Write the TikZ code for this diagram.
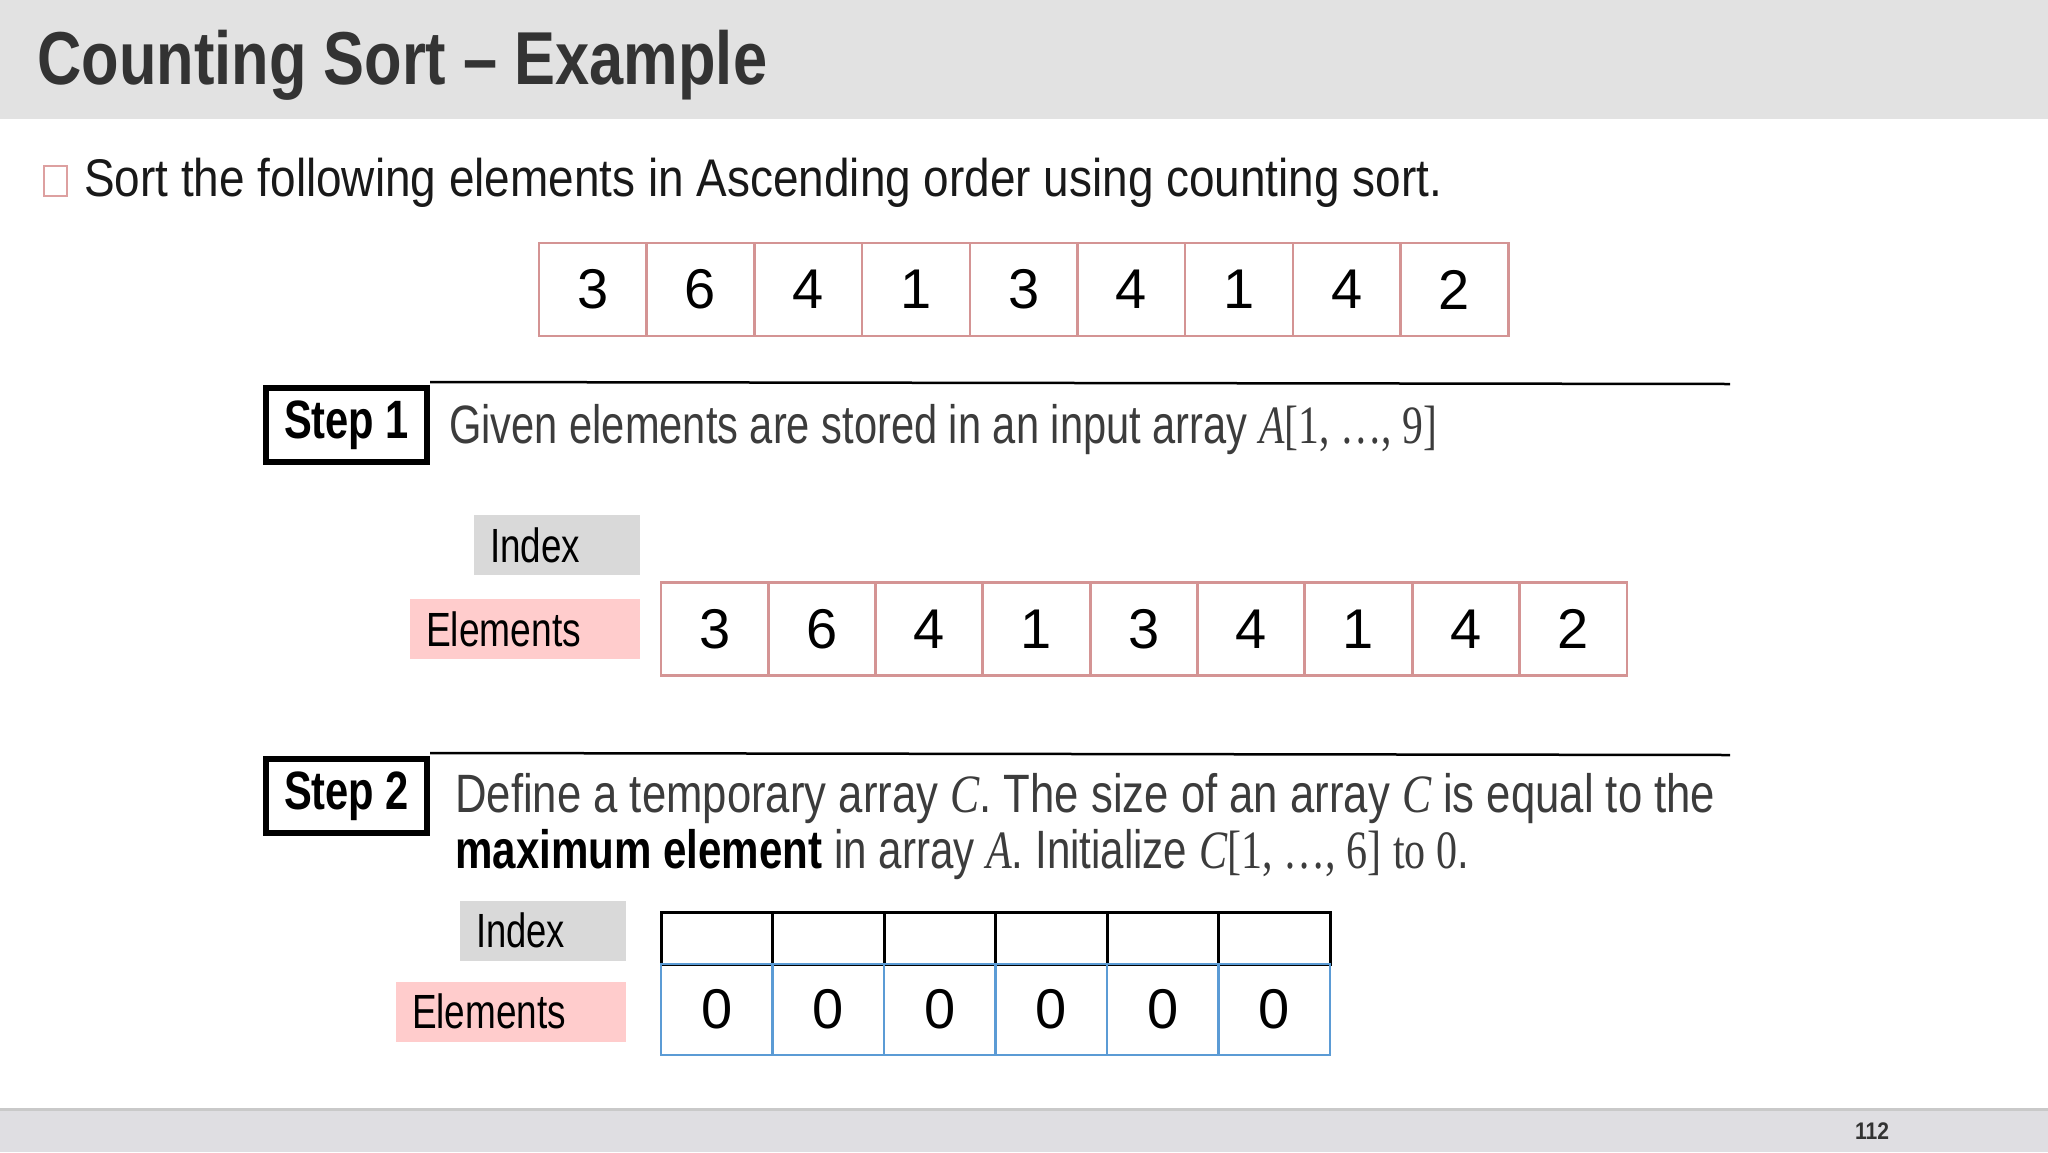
\documentclass[tikz,border=0pt]{standalone}
\usepackage{fontspec}
\usepackage{graphicx}
\setmainfont{Liberation Sans}
\newfontfamily\mserif{Liberation Serif}
\newcommand\hx[2]{\resizebox{#1}{\height}{#2}}
\newcommand\fs[1]{\fontsize{#1}{#1}\selectfont}
\definecolor{titlegray}{HTML}{333333}
\definecolor{hdr}{HTML}{E2E2E2}
\definecolor{cellpink}{HTML}{D49494}
\definecolor{idxgray}{HTML}{D9D9D9}
\definecolor{elpink}{HTML}{FFCCCC}
\definecolor{cblue}{HTML}{5B9BD5}
\definecolor{footgray}{HTML}{DFDEE2}
\definecolor{footline}{HTML}{C9C9C9}
\definecolor{steptext}{HTML}{3C3C3C}
\definecolor{boxpink}{HTML}{DDA0A0}
\tikzset{
  acell/.style={draw=cellpink, line width=2.5pt, minimum width=107.7pt, minimum height=93pt, inner sep=0pt, outer sep=0pt, font=\fs{56}},
  ccell/.style={draw=cblue, line width=2.5pt, minimum width=111.5pt, minimum height=91pt, inner sep=0pt, outer sep=0pt, font=\fs{56}},
  icell/.style={draw=black, line width=3pt, minimum width=111.5pt, minimum height=52pt, inner sep=0pt, outer sep=0pt},
  stepbox/.style={draw=black, line width=6pt, minimum width=161pt, minimum height=74pt, inner sep=0pt, font=\bfseries\fs{54}},
  lab/.style={minimum height=60pt, inner xsep=16pt, inner ysep=0pt, align=left, font=\fs{48}, text=black},
  txt/.style={anchor=base west, inner sep=0pt},
  rule/.style={line width=2.5pt, draw=black}
}
\begin{document}
\begin{tikzpicture}[x=1pt,y=-1pt]
\useasboundingbox (0,0) rectangle (2048,1152);
\fill[white] (0,0) rectangle (2048,1152);
% header
\fill[hdr] (0,0) rectangle (2048,119);
\node[txt, text=titlegray] (title) at (37,84) {\hx{730pt}{\bfseries\fs{75}Counting Sort – Example}};
% intro
\node[draw=boxpink, fill=white, line width=2pt, minimum width=23pt, minimum height=30pt, inner sep=0pt] (cb) at (55.5,180.5) {};
\node[txt, text=black!90] (q) at (84,196) {\hx{1358pt}{\fs{53}Sort the following elements in Ascending order using counting sort.}};
% top array
\foreach \v [count=\i from 0] in {3,6,4,1,3,4,1,4,2}
  \node[acell] (top\i) at ({539+107.7*(\i+0.5)},289.5) {\v};
% step 1
\node[stepbox] (s1) at (346.5,425) {\raisebox{-2pt}{\hx{125pt}{Step 1}}};
\coordinate (l1) at (1730,384);
\draw[rule] (s1.north east) ++(0,-3) -- (l1);
\node[txt, text=steptext] (t1) at (449,443) {\hx{988pt}{\fs{54}Given elements are stored in an input array {\mserif\itshape A}{\mserif[1, …, 9]}}};
\node[lab, fill=idxgray, text width=134pt] (ix1) at (557,545) {\hx{90pt}{Index}};
\node[lab, fill=elpink, text width=198pt] (el1) at (525,629) {\hx{155pt}{Elements}};
\foreach \v [count=\i from 0] in {3,6,4,1,3,4,1,4,2}
  \node[acell] (a\i) at ({661+107.3*(\i+0.5)},629) {\v};
% step 2
\node[stepbox] (s2) at (346.5,796) {\raisebox{-2pt}{\hx{125pt}{Step 2}}};
\coordinate (l2) at (1730,755);
\draw[rule] (s2.north east) ++(0,-3) -- (l2);
\node[txt, text=steptext] (t2a) at (455,812) {\hx{1260pt}{\fs{54}Define a temporary array {\mserif\itshape C}. The size of an array {\mserif\itshape C} is equal to the}};
\node[txt, text=steptext] (t2b) at (455,868) {\hx{1014pt}{\fs{54}{\bfseries\color{black}maximum element} in array {\mserif\itshape A}. Initialize {\mserif\itshape C}{\mserif[1, …, 6]} {\mserif to 0}.}};
\node[lab, fill=idxgray, text width=134pt] (ix2) at (543,930.5) {\hx{89pt}{Index}};
\node[lab, fill=elpink, text width=198pt] (el2) at (511,1011.5) {\hx{154pt}{Elements}};
\foreach \i in {0,...,5}
  \node[icell] (ci\i) at ({661+111.5*(\i+0.5)},938) {};
\foreach \i in {0,...,5}
  \node[ccell] (c\i) at ({661+111.5*(\i+0.5)},1009.5) {0};
% footer
\fill[footgray] (0,1109) rectangle (2048,1152);
\draw[footline, line width=3pt] (0,1109) -- (2048,1109);
\node[font=\bfseries\fs{24}, text=titlegray, inner sep=0pt] (pg) at (1872,1131) {\hx{34pt}{112}};
\end{tikzpicture}
\end{document}
